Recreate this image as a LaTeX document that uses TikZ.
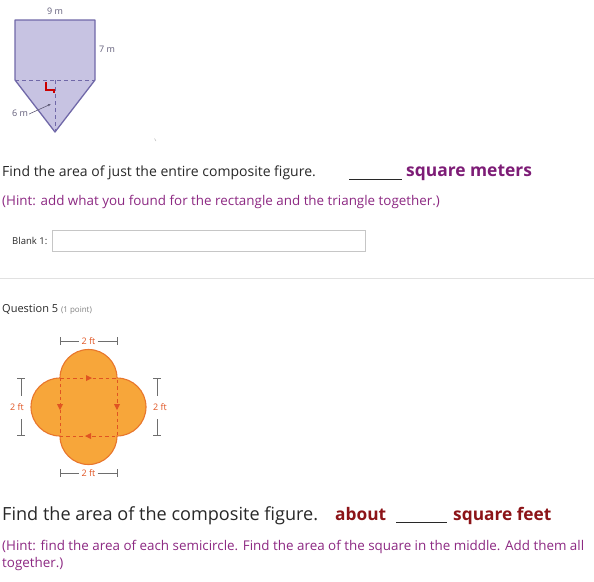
\documentclass[tikz,border=0pt]{standalone}
\usepackage{fontspec}
\setmainfont{Open Sans}
\usetikzlibrary{arrows.meta}
\definecolor{lav}{RGB}{199,195,226}
\definecolor{lavline}{RGB}{112,104,168}
\definecolor{lbl}{RGB}{96,92,120}
\definecolor{txt}{RGB}{40,40,40}
\definecolor{purp}{RGB}{125,28,118}
\definecolor{hint}{RGB}{140,40,130}
\definecolor{dred}{RGB}{140,20,24}
\definecolor{org}{RGB}{247,166,58}
\definecolor{orgline}{RGB}{232,118,44}
\definecolor{dashc}{RGB}{224,84,34}
\definecolor{dimc}{RGB}{110,110,110}
\definecolor{sep}{RGB}{225,225,225}
\tikzset{
  lab/.style={font=\fontsize{9}{10}\selectfont, text=lbl, inner sep=0pt},
  olab/.style={font=\fontsize{9}{10}\selectfont, text=dashc, inner sep=0pt},
  body/.style={font=\fontsize{14}{16}\selectfont, text=txt, anchor=base west, inner sep=0pt},
  bigbody/.style={font=\fontsize{18.1}{21}\selectfont, text=txt, anchor=base west, inner sep=0pt},
  hinttext/.style={font=\fontsize{13.4}{16}\selectfont, text=hint, anchor=base west, inner sep=0pt},
  dimline/.style={draw=dimc, line width=0.8pt},
  sqdash/.style={draw=dashc, line width=1pt, dash pattern=on 3.5pt off 3pt},
}
\begin{document}
\begin{tikzpicture}[x=1pt,y=-1pt]
\useasboundingbox (0,0) rectangle (594,581);
% ---- first figure
\coordinate (A) at (15,20);
\coordinate (B) at (95,20);
\coordinate (C) at (95,80);
\coordinate (D) at (55,132);
\coordinate (E) at (15,80);
\coordinate (M) at (55,80);
\filldraw[fill=lav, draw=lavline, line width=1.3pt, line join=round] (A) -- (B) -- (C) -- (D) -- (E) -- cycle;
\draw[lavline, line width=1pt, dash pattern=on 4pt off 3pt] (E) -- (C);
\draw[lavline, line width=1pt, dash pattern=on 4pt off 3pt] (M) -- (D);
\draw[red!80!black, line width=1.1pt] (46,82) -- (46,90) -- (54,90) -- (54,93);
\node[lab] (l9) at (55,11) {9 m};
\node[lab] (l7) at (107,49) {7 m};
\node[lab] (l6) at (20,113) {6 m};
\coordinate (l6e) at (51,104);
\draw[lbl, line width=0.6pt, -{Latex[length=3pt,width=2.5pt]}] (l6.east) ++(1pt,-1pt) -- (l6e);
\draw[gray!60, line width=0.5pt] (154.5,138.5) -- (156,141);
% ---- texts question 4
\node[body] (q4) at (2,176) {Find the area of just the entire composite figure.};
\coordinate (u1a) at (349,179);
\coordinate (u1b) at (402,179);
\draw[txt, line width=0.8pt] (u1a) -- (u1b);
\node[font=\bfseries\fontsize{17.4}{20}\selectfont, text=purp, anchor=base west, inner sep=0pt] (sqm) at (406,176) {square meters};
\node[hinttext] (h4) at (2,205) {(Hint: add what you found for the rectangle and the triangle together.)};
\node[font=\fontsize{9.5}{11}\selectfont, text=txt, anchor=base west, inner sep=0pt] (b1) at (12,244) {Blank 1:};
\node[draw=gray!45, line width=0.8pt, minimum width=313pt, minimum height=21pt, anchor=north west, inner sep=0pt] (box) at (52,230) {};
\coordinate (s1) at (0,278);
\coordinate (s2) at (594,278);
\draw[sep, line width=1pt] (s1) -- (s2);
\node[font=\fontsize{11}{13}\selectfont, text=txt, anchor=base west, inner sep=0pt] (q5) at (2,312) {Question 5 {\fontsize{8}{9}\selectfont\color{gray}(1 point)}};
% ---- flower
\def\r{28.5}
\coordinate (TL) at (60,378);
\coordinate (TR) at (117,378);
\coordinate (BR) at (117,436);
\coordinate (BL) at (60,436);
\filldraw[fill=org, draw=orgline, line width=1.1pt]
  (TL) arc[start angle=180, end angle=360, radius=\r] -- (TR)
  arc[start angle=-90, end angle=90, radius=29] -- (BR)
  arc[start angle=0, end angle=180, radius=\r] -- (BL)
  arc[start angle=90, end angle=270, radius=29] -- cycle;
\draw[sqdash] (TL) -- (TR) -- (BR) -- (BL) -- cycle;
\fill[dashc] (92,378) -- (86,375) -- (86,381) -- cycle;
\fill[dashc] (85,436) -- (91,433) -- (91,439) -- cycle;
\fill[dashc] (60,410) -- (57,404) -- (63,404) -- cycle;
\fill[dashc] (117,410) -- (114,404) -- (120,404) -- cycle;
% dims
\node[olab] (dt) at (88.5,341) {2 ft};
\node[olab] (db) at (88.5,473) {2 ft};
\node[olab] (dl) at (17,407) {2 ft};
\node[olab] (dr) at (160,407) {2 ft};
\coordinate (dt1) at (60,341); \coordinate (dt2) at (117,341);
\coordinate (db1) at (60,473); \coordinate (db2) at (117,473);
\coordinate (dl1) at (21,378); \coordinate (dl2) at (21,435);
\coordinate (dr1) at (157,378); \coordinate (dr2) at (157,435);
\draw[dimline] (dt1) -- ([xshift=-2pt]dt.west); \draw[dimline] ([xshift=2pt]dt.east) -- (dt2);
\draw[dimline] (60,337) -- (60,345); \draw[dimline] (117,337) -- (117,345);
\draw[dimline] (db1) -- ([xshift=-2pt]db.west); \draw[dimline] ([xshift=2pt]db.east) -- (db2);
\draw[dimline] (60,469) -- (60,477); \draw[dimline] (117,469) -- (117,477);
\draw[dimline] (dl1) -- (21,396); \draw[dimline] (21,419) -- (dl2);
\draw[dimline] (17,378) -- (25,378); \draw[dimline] (17,435) -- (25,435);
\draw[dimline] (dr1) -- (157,396); \draw[dimline] (157,419) -- (dr2);
\draw[dimline] (153,378) -- (161,378); \draw[dimline] (153,435) -- (161,435);
% ---- texts question 5
\node[bigbody] (q5t) at (2,520) {Find the area of the composite figure.};
\node[font=\bfseries\fontsize{17.3}{20}\selectfont, text=dred, anchor=base west, inner sep=0pt] (ab) at (335,520) {about};
\coordinate (u2a) at (396,522);
\coordinate (u2b) at (447,522);
\draw[txt, line width=0.8pt] (u2a) -- (u2b);
\node[font=\bfseries\fontsize{17.3}{20}\selectfont, text=dred, anchor=base west, inner sep=0pt] (sqf) at (453,520) {square feet};
\node[hinttext] (h5a) at (2,550) {(Hint: find the area of each semicircle. Find the area of the square in the middle. Add them all};
\node[hinttext] (h5b) at (2,567) {together.)};
\end{tikzpicture}
\end{document}
